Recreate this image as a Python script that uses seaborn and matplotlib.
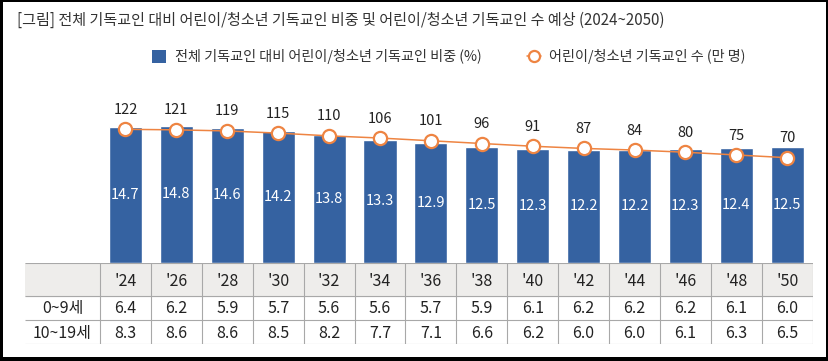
import numpy as np
import pandas as pd
import matplotlib
matplotlib.use("Agg")
import matplotlib.pyplot as plt
import seaborn as sns
from matplotlib.patches import Rectangle, Patch
from matplotlib.lines import Line2D

# ---------------- data ----------------
years = ["'24", "'26", "'28", "'30", "'32", "'34", "'36",
         "'38", "'40", "'42", "'44", "'46", "'48", "'50"]
share = [14.7, 14.8, 14.6, 14.2, 13.8, 13.3, 12.9,
         12.5, 12.3, 12.2, 12.2, 12.3, 12.4, 12.5]
count = [122, 121, 119, 115, 110, 106, 101, 96, 91, 87, 84, 80, 75, 70]
age_0_9 = [6.4, 6.2, 5.9, 5.7, 5.6, 5.6, 5.7, 5.9, 6.1, 6.2, 6.2, 6.2, 6.1, 6.0]
age_10_19 = [8.3, 8.6, 8.6, 8.5, 8.2, 7.7, 7.1, 6.6, 6.2, 6.0, 6.0, 6.1, 6.3, 6.5]
row_labels = ["0~9세", "10~19세"]
title = "[그림] 전체 기독교인 대비 어린이/청소년 기독교인 비중 및 어린이/청소년 기독교인 수 예상 (2024~2050)"
bar_label = "전체 기독교인 대비 어린이/청소년 기독교인 비중 (%)"
line_label = "어린이/청소년 기독교인 수 (만 명)"

# ---------------- style ----------------
sns.set_style("white")
plt.rcParams["font.family"] = ["Noto Sans CJK KR", "DejaVu Sans"]
BLUE = "#3562a1"
ORANGE = "#ee8442"
TXT = "#222222"
GRID = "#a8a8a8"
HEAD = "#eeedeb"

W, H = 829, 361
fig = plt.figure(figsize=(W / 100, H / 100), dpi=100, facecolor="black")
fig.add_artist(Rectangle((3 / W, 4 / H), 823 / W, 355 / H, transform=fig.transFigure,
                         facecolor="white", edgecolor="none", zorder=-10))


def fx(px):
    return px / W


def fy(py):
    return 1 - py / H


# ---------------- bars + line ----------------
L, R, T, B = 100, 812.7, 80, 262.7
ax = fig.add_axes([fx(L), fy(B), fx(R) - fx(L), fy(T) - fy(B)])
ax.set_facecolor("none")
df = pd.DataFrame({"year": years, "share": share, "count": count})
sns.barplot(data=df, x="year", y="share", color=BLUE, saturation=1, width=0.65, ax=ax)
ax.set_xlim(-0.5, len(years) - 0.5)
ax.set_ylim(0, 19.75)
for i, v in enumerate(share):
    ax.text(i, v / 2, f"{v:.1f}", ha="center", va="center", color="white", fontsize=10.5)

ax2 = ax.twinx()
sns.lineplot(x=np.arange(len(count)), y=count, ax=ax2, color=ORANGE, linewidth=1.1,
             marker="o", markersize=9.5, markerfacecolor="white",
             markeredgecolor=ORANGE, markeredgewidth=1.6)
ax2.set_ylim(-122.3, 212.3)
ax2.set_xlim(-0.5, len(years) - 0.5)
for i, v in enumerate(count):
    ax2.annotate(f"{v}", (i, v), xytext=(0, 14), textcoords="offset points",
                 ha="center", va="center", fontsize=10.5, color=TXT)

for a in (ax, ax2):
    for s in a.spines.values():
        s.set_visible(False)
    a.set_xticks([])
    a.set_yticks([])
    a.set_xlabel("")
    a.set_ylabel("")

# ---------------- table ----------------
TL, TB = 25, 344.3
colw = (R - L) / len(years)
tab = fig.add_axes([fx(TL), fy(TB), fx(R) - fx(TL), fy(B) - fy(TB)])
tab.set_facecolor("none")
xleft = -0.5 - (L - TL) / colw
xright = len(years) - 0.5
tab.set_xlim(xleft, xright)
tab.set_ylim(TB - B, 0)
rows_y = [0, 33, 57.3, TB - B]
tab.axhspan(rows_y[0], rows_y[1], color=HEAD, zorder=0)
tab.hlines(rows_y, xleft, xright, color=GRID, lw=0.8, zorder=2)
tab.vlines(np.arange(len(years) + 1) - 0.5, 0, TB - B, color=GRID, lw=0.8, zorder=2)
lab_x = (xleft - 0.5) / 2
for i, y in enumerate(years):
    tab.text(i, 18.5, y, ha="center", va="center", fontsize=11.5, color=TXT)
for r, (lab, vals) in enumerate(zip(row_labels, [age_0_9, age_10_19])):
    yc = (rows_y[r + 1] + rows_y[r + 2]) / 2 + 1
    tab.text(lab_x, yc, lab, ha="center", va="center", fontsize=11.5, color=TXT)
    for i, v in enumerate(vals):
        tab.text(i, yc, f"{v:.1f}", ha="center", va="center", fontsize=11.5, color=TXT)
tab.axis("off")

# ---------------- title + legend ----------------
fig.text(fx(17), fy(20), title, ha="left", va="center", fontsize=10.85, color="#333333")
handles = [Patch(facecolor=BLUE, edgecolor="none"),
           Line2D([0], [0], color=ORANGE, lw=1.1, marker="o", markersize=8,
                  markerfacecolor="white", markeredgecolor=ORANGE, markeredgewidth=1.6)]
fig.legend(handles, [bar_label, line_label], loc="center",
           bbox_to_anchor=(fx(449), fy(57)), ncol=2, frameon=False, fontsize=10.2,
           handlelength=1.0, handleheight=1.0, handletextpad=0.6, columnspacing=3.2,
           labelcolor="#333333")

fig.savefig("out.png", dpi=100)
